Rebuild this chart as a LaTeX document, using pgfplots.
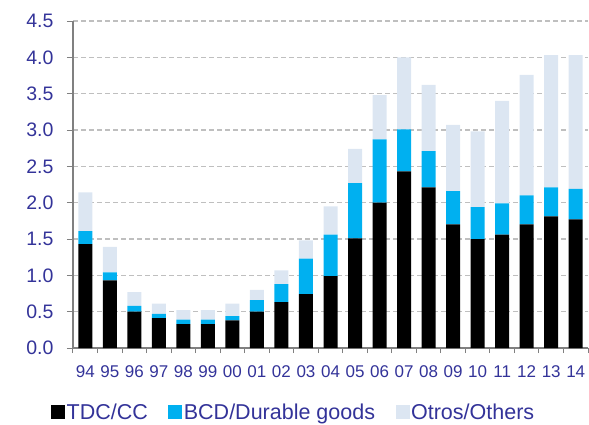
\documentclass[border=0pt]{standalone}
\usepackage{fontspec}
\setmainfont{Liberation Sans}
\usepackage{pgfplots}
\pgfplotsset{compat=1.18}
\usepackage{pgfplotstable}
\definecolor{navy}{RGB}{51,51,153}
\definecolor{cyanbar}{RGB}{0,176,240}
\definecolor{lightbar}{RGB}{220,230,242}
\definecolor{gridgray}{RGB}{191,191,191}
\definecolor{axgray}{RGB}{128,128,128}

% x  TDC/CC  BCD/Durable goods  Otros/Others
\pgfplotstableread{
x  tdc  bcd  otros
0  1.43 0.18 0.53
1  0.93 0.11 0.35
2  0.50 0.08 0.19
3  0.41 0.06 0.14
4  0.33 0.06 0.13
5  0.33 0.06 0.13
6  0.38 0.06 0.17
7  0.50 0.16 0.14
8  0.63 0.25 0.19
9  0.74 0.49 0.25
10 0.99 0.57 0.39
11 1.51 0.76 0.47
12 2.00 0.87 0.61
13 2.43 0.58 0.99
14 2.21 0.50 0.91
15 1.70 0.46 0.91
16 1.50 0.44 1.04
17 1.56 0.43 1.41
18 1.70 0.40 1.66
19 1.81 0.40 1.82
20 1.77 0.42 1.84
}\datos

\begin{document}
\begin{tikzpicture}
\begin{axis}[
  scale only axis,
  width=515pt, height=327pt,
  at={(0,0)}, anchor=south west,
  ybar stacked, bar width=14pt,
  xmin=-0.5, xmax=20.5,
  ymin=0, ymax=4.5,
  axis x line*=bottom, axis y line*=left,
  axis line style={axgray, line width=1.2pt},
  xtick={0,...,20},
  xticklabels={94,95,96,97,98,99,00,01,02,03,04,05,06,07,08,09,10,11,12,13,14},
  major x tick style={draw=none},
  minor xtick={-0.5,0.5,...,20.5},
  minor x tick style={axgray, line width=1pt},
  ytick={0,0.5,1,1.5,2,2.5,3,3.5,4,4.5},
  y tick style={axgray, line width=1pt},
  tick align=outside,
  major tick length=6pt, minor tick length=5pt,
  /pgf/number format/assume math mode=true,
  ticklabel style={text=navy},
  y tick label style={/pgf/number format/fixed, /pgf/number format/fixed zerofill,
    /pgf/number format/precision=1, xshift=-10pt, font=\fontsize{19.5}{22}\selectfont},
  xticklabel style={yshift=-8pt, font=\fontsize{17}{20}\selectfont},
  ymajorgrids,
  grid style={gridgray, line width=1.2pt, dash pattern=on 5pt off 3pt},
  legend style={at={(0.428,-0.196)}, anchor=center, draw=none, fill=none,
    font=\fontsize{21.5}{25}\selectfont, text=navy,
    legend columns=3,
    /tikz/every even column/.append style={column sep=19pt},
    nodes={inner xsep=1.5pt}},
  legend image code/.code={\fill[#1] (0pt,-7pt) rectangle (14pt,7pt);},
]
\addplot[fill=black, draw=none] table[x=x, y=tdc] {\datos};
\addlegendentry{TDC/CC}
\addplot[fill=cyanbar, draw=none] table[x=x, y=bcd] {\datos};
\addlegendentry{BCD/Durable goods}
\addplot[fill=lightbar, draw=none] table[x=x, y=otros] {\datos};
\addlegendentry{Otros/Others}
\end{axis}
\pgfresetboundingbox
\path[use as bounding box] (-73pt,-76pt) rectangle (516pt,348pt);
\end{tikzpicture}
\end{document}
